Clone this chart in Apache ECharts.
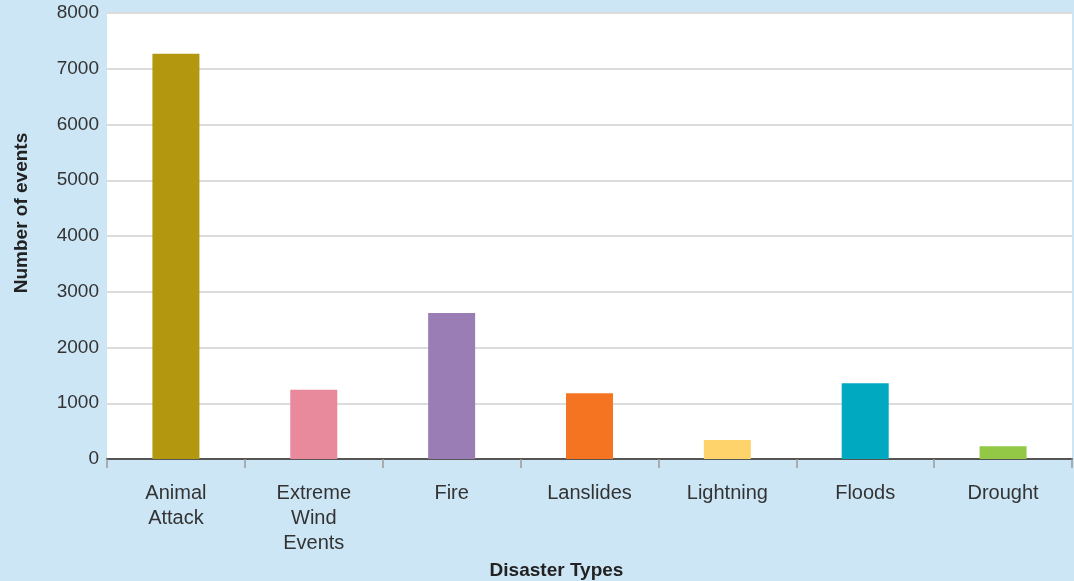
<!DOCTYPE html>
<html>
<head>
<meta charset="utf-8">
<script src="https://cdn.jsdelivr.net/npm/echarts@6/dist/echarts.min.js"></script>
<style>
  html, body { margin: 0; padding: 0; background: #cce6f6; }
  #chart { width: 1074px; height: 581px; }
</style>
</head>
<body>
<div id="chart"></div>
<script>
// data
const categories = ['Animal\nAttack', 'Extreme\nWind\nEvents', 'Fire', 'Lanslides', 'Lightning', 'Floods', 'Drought'];
const events = [7270, 1240, 2620, 1180, 340, 1360, 230];
const barColors = ['#b3980f', '#e8899c', '#9b7db5', '#f47421', '#fed36c', '#00a9bf', '#93c846'];

const chart = echarts.init(document.getElementById('chart'));

const option = {
  backgroundColor: '#cce6f6',
  textStyle: { fontFamily: 'Liberation Sans' },
  grid: {
    left: 107,
    right: 2,
    top: 13,
    bottom: 122,
    containLabel: false,
    outerBoundsMode: 'none',
    show: true,
    backgroundColor: '#ffffff',
    borderWidth: 0
  },
  xAxis: {
    type: 'category',
    data: categories,
    name: 'Disaster Types',
    nameLocation: 'middle',
    nameGap: 94,
    nameTextStyle: {
      fontSize: 19,
      fontWeight: 'bold',
      color: '#222',
      padding: [0, 66, 0, 0]
    },
    axisLine: { lineStyle: { color: '#555', width: 2 } },
    axisTick: { show: true, length: 9, lineStyle: { color: '#999', width: 1.5 } },
    axisLabel: {
      interval: 0,
      fontSize: 20,
      lineHeight: 25,
      color: '#333',
      margin: 22
    }
  },
  yAxis: {
    type: 'value',
    min: 0,
    max: 8000,
    interval: 1000,
    name: 'Number of events',
    nameLocation: 'middle',
    nameGap: 76,
    nameTextStyle: {
      fontSize: 19,
      fontWeight: 'bold',
      color: '#222',
      padding: [0, 0, 0, 46]
    },
    axisLine: { show: false },
    axisTick: { show: false },
    axisLabel: {
      fontSize: 19,
      color: '#333',
      margin: 8,
      padding: [7, 0, 0, 0],
      formatter: v => String(v)
    },
    splitLine: { lineStyle: { color: '#dcdcdc', width: 2 } }
  },
  series: [{
    type: 'bar',
    data: events.map((v, i) => ({ value: v, itemStyle: { color: barColors[i] } })),
    barWidth: 47
  }]
};

chart.setOption(option);
window.addEventListener('resize', () => {
  chart.resize();
});
</script>
</body>
</html>
